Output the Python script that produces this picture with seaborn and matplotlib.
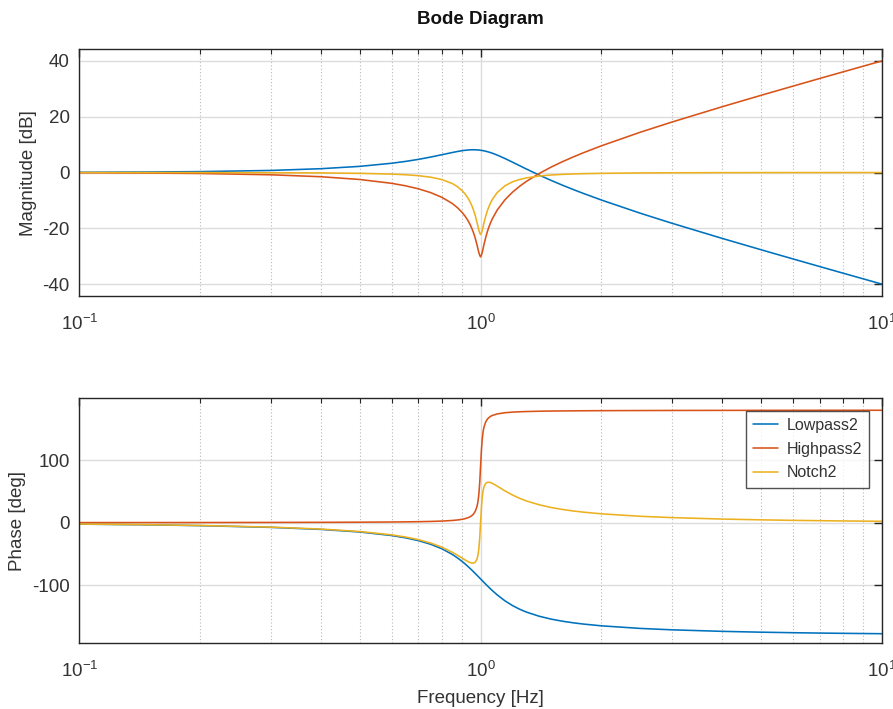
import numpy as np
import pandas as pd
import matplotlib
matplotlib.use("Agg")
import matplotlib.pyplot as plt
import seaborn as sns
from matplotlib.ticker import LogLocator, NullFormatter

# Bode diagram of three 2nd order filters

freq = [0.1, 0.15, 0.2, 0.3, 0.4, 0.5, 0.6, 0.65, 0.7, 0.75, 0.8, 0.85, 0.875, 0.9,
        0.915, 0.93, 0.94, 0.95, 0.96, 0.97, 0.98, 0.985, 0.99, 0.995, 1.0, 1.005,
        1.01, 1.015, 1.02, 1.03, 1.04, 1.05, 1.06, 1.07, 1.1, 1.15, 1.2, 1.25, 1.3,
        1.4, 1.5, 1.6, 1.7, 1.8, 2.0, 2.5, 3.0, 4.0, 5.0, 6.0, 7.0, 8.0, 10.0]

# magnitude [dB]
mag_lowpass = [0.08, 0.18, 0.32, 0.74, 1.36, 2.20, 3.31, 3.97, 4.70, 5.51, 6.35, 7.15,
               7.51, 7.81, 7.95, 8.05, 8.10, 8.13, 8.14, 8.12, 8.09, 8.07, 8.04, 8.00,
               7.96, 7.91, 7.86, 7.81, 7.74, 7.61, 7.45, 7.28, 7.10, 6.90, 6.24, 5.01,
               3.73, 2.47, 1.27, -0.92, -2.84, -4.54, -6.06, -7.43, -9.84, -14.56,
               -18.16, -23.57, -27.63, -30.90, -33.64, -36.00, -39.92]
mag_highpass = [-0.09, -0.20, -0.35, -0.82, -1.51, -2.50, -3.87, -4.76, -5.84, -7.17,
                -8.85, -11.09, -12.54, -14.33, -15.63, -17.19, -18.41, -19.83, -21.51,
                -23.53, -25.97, -27.31, -28.61, -29.63, -30.20, -29.55, -28.47, -27.11,
                -25.73, -23.22, -21.11, -19.35, -17.85, -16.55, -13.44, -9.78, -7.10,
                -4.98, -3.21, -0.35, 1.95, 3.87, 5.53, 7.01, 9.54, 14.40, 18.06, 23.52,
                27.61, 30.88, 33.63, 35.99, 39.91]
mag_notch = [-0.01, -0.02, -0.03, -0.08, -0.15, -0.30, -0.57, -0.80, -1.14, -1.66, -2.51,
             -3.94, -5.03, -6.52, -7.69, -9.14, -10.31, -11.70, -13.37, -15.41, -17.88,
             -19.25, -20.58, -21.63, -22.20, -21.63, -20.60, -19.31, -17.99, -15.61,
             -13.66, -12.07, -10.75, -9.65, -7.20, -4.77, -3.37, -2.51, -1.94, -1.26,
             -0.89, -0.67, -0.53, -0.42, -0.30, -0.15, -0.10, -0.05, -0.03, -0.02, -0.02,
             -0.01, -0.01]

# phase [deg]
ph_lowpass = [-2.31, -3.51, -4.76, -7.51, -10.78, -14.93, -20.56, -24.24, -28.77, -34.44,
              -41.63, -50.78, -56.19, -62.18, -66.02, -70.05, -72.80, -75.61, -78.46,
              -81.34, -84.23, -85.68, -87.12, -88.56, -90.0, -91.43, -92.85, -94.26,
              -95.65, -98.41, -101.10, -103.71, -106.25, -108.70, -115.52, -125.03,
              -132.51, -138.37, -143.00, -149.74, -154.36, -157.69, -160.21, -162.18,
              -165.07, -169.22, -171.47, -173.91, -175.24, -176.08, -176.66, -177.09,
              -177.69]
ph_highpass = [0.12, 0.18, 0.24, 0.38, 0.55, 0.76, 1.07, 1.29, 1.57, 1.96, 2.54, 3.51,
               4.27, 5.41, 6.41, 7.84, 9.17, 11.03, 13.76, 18.17, 26.33, 33.49, 44.86,
               63.38, 90.0, 116.50, 134.86, 146.11, 153.21, 161.31, 165.70, 168.42,
               170.27, 171.60, 174.02, 175.92, 176.88, 177.46, 177.84, 178.33, 178.63,
               178.83, 178.97, 179.08, 179.24, 179.45, 179.57, 179.69, 179.76, 179.80,
               179.83, 179.85, 179.88]
ph_notch = [-2.19, -3.33, -4.52, -7.13, -10.23, -14.17, -19.49, -22.95, -27.20, -32.48,
            -39.09, -47.27, -51.92, -56.77, -59.61, -62.21, -63.63, -64.58, -64.70,
            -63.17, -57.90, -52.19, -42.26, -25.18, 0.0, 25.07, 42.01, 51.85, 57.56,
            62.90, 64.60, 64.71, 64.02, 62.90, 58.50, 50.89, 44.37, 39.09, 34.84, 28.59,
            24.27, 21.14, 18.76, 16.90, 14.17, 10.23, 8.10, 5.78, 4.52, 3.72, 3.17, 2.76,
            2.19]

filters = ["Lowpass2", "Highpass2", "Notch2"]
colors = ["#0072BD", "#D95319", "#EDB120"]

df = pd.concat([
    pd.DataFrame({"freq": freq, "mag": m, "phase": p, "filter": name})
    for name, m, p in zip(filters,
                          [mag_lowpass, mag_highpass, mag_notch],
                          [ph_lowpass, ph_highpass, ph_notch])
], ignore_index=True)

sns.set_style("white")
plt.rcParams["font.family"] = ["Liberation Sans", "DejaVu Sans"]
plt.rcParams["mathtext.fontset"] = "custom"
plt.rcParams["mathtext.rm"] = "Liberation Sans"
plt.rcParams["mathtext.it"] = "Liberation Sans:italic"
plt.rcParams["axes.unicode_minus"] = False

txt = "#333333"

fig = plt.figure(figsize=(8.93, 7.09), dpi=100)
ax1 = fig.add_axes([0.089, 0.5825, 0.8983, 0.348])
ax2 = fig.add_axes([0.089, 0.0927, 0.8983, 0.3455])

sns.lineplot(data=df, x="freq", y="mag", hue="filter", palette=colors,
             hue_order=filters, sort=False, estimator=None, lw=1.15,
             legend=False, ax=ax1)
sns.lineplot(data=df, x="freq", y="phase", hue="filter", palette=colors,
             hue_order=filters, sort=False, estimator=None, lw=1.15, ax=ax2)

for ax in (ax1, ax2):
    ax.set_xscale("log")
    ax.set_xlim(0.1, 10)
    ax.xaxis.set_major_locator(LogLocator(base=10, numticks=5))
    ax.xaxis.set_minor_locator(LogLocator(base=10, subs=np.arange(2, 10), numticks=20))
    ax.xaxis.set_minor_formatter(NullFormatter())
    ax.grid(True, which="major", color="#dcdcdc", lw=1.0, ls="-")
    ax.grid(True, which="minor", axis="x", color="#b8b8b8", lw=0.8, ls=(0, (1, 2)))
    ax.set_axisbelow(True)
    ax.tick_params(which="both", direction="in", top=True, right=True,
                   color="#262626", labelsize=13.5, labelcolor=txt)
    ax.tick_params(which="major", length=6, width=1)
    ax.tick_params(which="minor", length=3.5, width=0.8)
    ax.tick_params(axis="x", which="major", pad=13)
    ax.tick_params(axis="y", which="major", pad=7)
    for s in ax.spines.values():
        s.set_color("#262626")
        s.set_linewidth(1.0)

ax1.set_ylim(-44.2, 44.1)
ax1.set_yticks([-40, -20, 0, 20, 40])
ax1.set_xlabel("")
ax1.set_ylabel("Magnitude [dB]", fontsize=13.5, color=txt, labelpad=4)
ax1.set_title("Bode Diagram", fontsize=13.5, fontweight="bold", pad=18, color="#111111")

ax2.set_ylim(-193, 199)
ax2.set_yticks([-100, 0, 100])
ax2.set_xlabel("Frequency [Hz]", fontsize=13.5, color=txt, labelpad=6)
ax2.set_ylabel("Phase [deg]", fontsize=13.5, color=txt, labelpad=4)

leg = ax2.legend(title=None, loc="upper right", bbox_to_anchor=(0.984, 0.95),
                 fontsize=11.5, frameon=True, fancybox=False, handlelength=1.6,
                 borderpad=0.45, labelspacing=0.55, handletextpad=0.5,
                 borderaxespad=0)
leg.get_frame().set_edgecolor("#262626")
leg.get_frame().set_linewidth(1.0)
for text in leg.get_texts():
    text.set_color(txt)
for line in leg.get_lines():
    line.set_linewidth(1.15)

fig.savefig("out.png", dpi=100)
